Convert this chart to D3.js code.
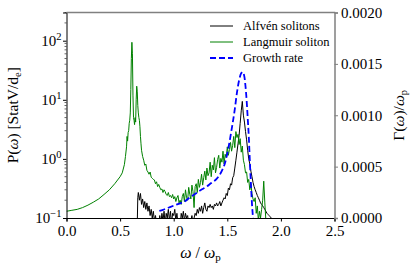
<!DOCTYPE html>
<html lang="en">
<head>
    <meta charset="utf-8">
    <script type="text/javascript" src="https://d3js.org/d3.v7.min.js"></script>
    <style>
        body { margin: 0; background: #fff; }
    </style>
</head>
<body>
    <script type="text/javascript">
        let w = 415;
        let h = 270;
        let serif = "Liberation Serif, Times New Roman, DejaVu Serif, serif";

        // Langmuir soliton spectrum
        let langW = [0.00, 0.05, 0.10, 0.15, 0.20, 0.25, 0.30, 0.35, 0.40, 0.45, 0.50, 0.52, 0.54, 0.55, 0.56, 0.565, 0.57, 0.575, 0.58, 0.585, 0.59, 0.595,
            0.60, 0.605, 0.61, 0.615, 0.62, 0.625, 0.63, 0.635, 0.64, 0.645, 0.65, 0.655, 0.66, 0.665, 0.67, 0.675, 0.68, 0.685, 0.69, 0.695,
            0.70, 0.71, 0.72, 0.73, 0.74, 0.75, 0.76, 0.77, 0.78, 0.79, 0.80, 0.81, 0.82, 0.83, 0.84, 0.85, 0.86, 0.87, 0.88, 0.89,
            0.90, 0.91, 0.92, 0.93, 0.94, 0.95, 0.96, 0.97, 0.98, 0.99, 1.00, 1.01, 1.02, 1.03, 1.04, 1.05, 1.06, 1.07, 1.08, 1.09,
            1.10, 1.11, 1.12, 1.13, 1.14, 1.15, 1.16, 1.17, 1.18, 1.19, 1.20, 1.21, 1.22, 1.23, 1.24, 1.25, 1.26, 1.27, 1.28, 1.29,
            1.30, 1.31, 1.32, 1.33, 1.34, 1.35, 1.36, 1.37, 1.38, 1.39, 1.40, 1.41, 1.42, 1.43, 1.44, 1.45, 1.46, 1.47, 1.48, 1.49,
            1.50, 1.51, 1.52, 1.53, 1.54, 1.55, 1.56, 1.57, 1.58, 1.59, 1.60, 1.61, 1.62, 1.63, 1.64, 1.65, 1.66, 1.67, 1.68, 1.69,
            1.70, 1.71, 1.72, 1.73, 1.74, 1.75, 1.76, 1.77, 1.78, 1.79, 1.80, 1.81, 1.82, 1.83, 1.84, 1.85, 1.86, 1.87, 1.88];
        let langP = [0.13, 0.135, 0.14, 0.15, 0.165, 0.185, 0.21, 0.25, 0.30, 0.38, 0.50, 0.58, 0.80, 1.1, 1.6, 2.4, 2.0, 2.8, 3.0, 4.0, 4.5, 6.0,
            15, 50, 94, 60, 12, 5.0, 4.5, 3.8, 5.0, 4.2, 10, 17, 14, 8.0, 6.0, 5.0, 4.5, 3.5, 2.4, 1.8,
            1.40, 1.10, 0.95, 0.78, 0.82, 0.64, 0.60, 0.55, 0.60, 0.49, 0.47, 0.45, 0.44, 0.38, 0.41, 0.34, 0.37, 0.33, 0.30, 0.31,
            0.27, 0.30, 0.28, 0.25, 0.24, 0.27, 0.23, 0.24, 0.22, 0.25, 0.21, 0.23, 0.19, 0.22, 0.24, 0.18, 0.20, 0.17, 0.23, 0.26,
            0.19, 0.30, 0.22, 0.20, 0.33, 0.25, 0.21, 0.36, 0.28, 0.15, 0.34, 0.38, 0.27, 0.45, 0.33, 0.40, 0.55, 0.36, 0.48, 0.62,
            0.44, 0.70, 0.52, 0.58, 0.88, 0.50, 0.78, 0.65, 1.05, 0.58, 0.72, 0.98, 1.15, 0.70, 1.02, 0.88, 1.35, 0.82, 1.20, 1.05,
            1.60, 1.15, 1.45, 1.90, 1.35, 1.70, 2.40, 1.55, 2.90, 2.30, 2.60, 1.75, 2.20, 1.30, 1.65, 0.95, 0.80, 0.58, 0.60, 0.40,
            0.45, 0.30, 0.38, 0.26, 0.21, 0.19, 0.22, 0.12, 0.16, 0.09, 0.13, 0.10, 0.14, 0.20, 0.42, 0.18, 0.09, 0.07, 0.06];

        // Alfven soliton spectrum
        let alfW = [0.650, 0.660, 0.665, 0.67, 0.68, 0.69, 0.70, 0.71, 0.72, 0.73, 0.74, 0.75, 0.76, 0.77, 0.78, 0.79,
            0.80, 0.81, 0.82, 0.83, 0.84, 0.85, 0.86, 0.87, 0.88, 0.89, 0.90, 0.91, 0.92, 0.93, 0.94, 0.95, 0.96, 0.97, 0.98, 0.99,
            1.00, 1.01, 1.02, 1.03, 1.04, 1.05, 1.06, 1.07, 1.08, 1.09, 1.10, 1.11, 1.12, 1.13, 1.14, 1.15, 1.16, 1.17, 1.18, 1.19,
            1.20, 1.21, 1.22, 1.23, 1.24, 1.25, 1.26, 1.27, 1.28, 1.29, 1.30, 1.31, 1.32, 1.33, 1.34, 1.35, 1.36, 1.37, 1.38, 1.39,
            1.40, 1.41, 1.42, 1.43, 1.44, 1.45, 1.46, 1.47, 1.48, 1.49, 1.50, 1.51, 1.52, 1.53, 1.54, 1.55, 1.56, 1.57, 1.58, 1.59,
            1.60, 1.61, 1.62, 1.63, 1.64, 1.65, 1.66, 1.67, 1.68, 1.69, 1.70, 1.71, 1.72, 1.73, 1.74, 1.75, 1.76, 1.77, 1.78, 1.79,
            1.80, 1.81, 1.82, 1.83, 1.84, 1.85, 1.86, 1.87, 1.88, 1.89, 1.90, 1.91, 1.92, 1.93];
        let alfP = [0.05, 0.08, 0.22, 0.27, 0.20, 0.26, 0.17, 0.21, 0.15, 0.19, 0.14, 0.18, 0.13, 0.16, 0.11, 0.14,
            0.10, 0.13, 0.09, 0.11, 0.08, 0.10, 0.07, 0.11, 0.08, 0.12, 0.09, 0.13, 0.08, 0.12, 0.10, 0.14, 0.09, 0.13, 0.08, 0.12,
            0.11, 0.14, 0.09, 0.12, 0.08, 0.10, 0.07, 0.12, 0.10, 0.13, 0.09, 0.12, 0.10, 0.11, 0.08, 0.10, 0.09, 0.11, 0.08, 0.10,
            0.12, 0.11, 0.14, 0.12, 0.15, 0.13, 0.16, 0.12, 0.15, 0.18, 0.14, 0.13, 0.16, 0.15, 0.17, 0.15, 0.16, 0.14, 0.17, 0.16,
            0.18, 0.16, 0.17, 0.19, 0.16, 0.18, 0.20, 0.22, 0.21, 0.26, 0.24, 0.32, 0.30, 0.38, 0.36, 0.48, 0.52, 0.70, 0.95, 1.30,
            1.80, 2.50, 4.00, 6.50, 9.40, 5.50, 4.20, 2.90, 2.10, 1.40, 1.00, 0.82, 0.62, 0.50, 0.40, 0.34, 0.30, 0.27, 0.24, 0.22,
            0.20, 0.18, 0.17, 0.16, 0.15, 0.14, 0.13, 0.12, 0.115, 0.11, 0.105, 0.10, 0.095, 0.09];

        // Growth rate (right axis)
        let grW = [0.866, 0.90, 0.95, 1.00, 1.06, 1.10, 1.15, 1.21, 1.25, 1.30, 1.35, 1.40, 1.45, 1.48, 1.51, 1.54, 1.57, 1.59,
            1.61, 1.63, 1.645, 1.66, 1.67, 1.68, 1.69, 1.70, 1.71, 1.72, 1.73, 1.74];
        let grG = [0.00007, 0.00008, 0.00010, 0.00012, 0.000143, 0.00016, 0.00020, 0.00024, 0.00027, 0.00030, 0.00034, 0.00038,
            0.00046, 0.00054, 0.00068, 0.00086, 0.00106, 0.00122, 0.00134, 0.00141, 0.00142, 0.00137, 0.00128, 0.00115,
            0.00098, 0.00080, 0.00056, 0.00034, 0.00014, 0.0];

        let xTicks = [0, 0.5, 1.0, 1.5, 2.0, 2.5];
        let yTicks = [0.1, 1, 10, 100];
        let yTickExp = ["\u22121", "0", "1", "2"];
        let y2Ticks = [0, 0.0005, 0.0010, 0.0015, 0.0020];

        let legendNames = ["Alfvén solitons", "Langmuir soliton", "Growth rate"];
        let legendColors = ["black", "green", "blue"];

        let m = {left: 66.5, right: 334.5, top: 12.5, bottom: 218};

        let svg = d3.select("body").append("svg")
            .attr("width", w)
            .attr("height", h)
            .style("font-family", serif);

        let x = d3.scaleLinear().domain([0, 2.5]).range([m.left, m.right]);
        let y = d3.scaleLog().domain([0.1, 300]).range([m.bottom, m.top]);
        let y2 = d3.scaleLinear().domain([0, 0.002]).range([m.bottom, m.top]);

        svg.append("clipPath").attr("id", "clip")
            .append("rect")
            .attr("x", m.left).attr("y", m.top)
            .attr("width", m.right - m.left).attr("height", m.bottom - m.top);

        let plot = svg.append("g").attr("clip-path", "url(#clip)");

        let lineP = d3.line()
            .x(function(d) { return x(d[0]); })
            .y(function(d) { return y(d[1]); });
        let lineG = d3.line()
            .x(function(d) { return x(d[0]); })
            .y(function(d) { return y2(d[1]); })
            .curve(d3.curveMonotoneX);

        plot.append("path")
            .datum(d3.zip(alfW, alfP))
            .attr("d", lineP)
            .attr("fill", "none")
            .attr("stroke", "black")
            .attr("stroke-width", 1);

        plot.append("path")
            .datum(d3.zip(langW, langP))
            .attr("d", lineP)
            .attr("fill", "none")
            .attr("stroke", "green")
            .attr("stroke-width", 1);

        plot.append("path")
            .datum(d3.zip(grW, grG))
            .attr("d", lineG)
            .attr("fill", "none")
            .attr("stroke", "blue")
            .attr("stroke-width", 1.8)
            .attr("stroke-dasharray", "6,3");

        // bottom axis
        let xAxis = svg.append("g")
            .attr("transform", "translate(0," + m.bottom + ")")
            .call(d3.axisBottom(x).tickValues(xTicks).tickFormat(d3.format(".1f")).tickSize(3.5).tickPadding(3.5));
        xAxis.attr("font-family", null).attr("font-size", 15);

        // left axis: log, labels drawn separately
        let yAxis = svg.append("g")
            .attr("transform", "translate(" + m.left + ",0)")
            .call(d3.axisLeft(y).tickValues(yTicks).tickFormat("").tickSize(3.5));

        let minor = [];
        yTicks.forEach(function(dec) {
            for (let k = 2; k <= 9; k++) {
                if (dec * k <= 300) minor.push(dec * k);
            }
        });
        svg.append("g").selectAll("line")
            .data(minor)
            .join("line")
            .attr("x1", m.left - 2).attr("x2", m.left)
            .attr("y1", function(d) { return y(d); })
            .attr("y2", function(d) { return y(d); })
            .attr("stroke", "black")
            .attr("stroke-width", 0.6);

        let ylabG = svg.append("g").attr("font-size", 15);
        yTicks.forEach(function(d, i) {
            let t = ylabG.append("text")
                .attr("x", m.left - 5)
                .attr("y", y(d) + 5)
                .attr("text-anchor", "end");
            t.append("tspan").text("10");
            t.append("tspan").attr("dy", -6).attr("font-size", 10.5).text(yTickExp[i]);
        });

        // right axis
        let y2Axis = svg.append("g")
            .attr("transform", "translate(" + m.right + ",0)")
            .call(d3.axisRight(y2).tickValues(y2Ticks).tickFormat(d3.format(".4f")).tickSize(3.5).tickPadding(3));
        y2Axis.attr("font-family", null).attr("font-size", 15);
        y2Axis.select(".domain").attr("stroke", "#808080").attr("stroke-width", 1.5);
        y2Axis.selectAll(".tick line").attr("stroke", "#808080");

        // top spine
        svg.append("line")
            .attr("x1", m.left).attr("x2", m.right + 0.75)
            .attr("y1", m.top).attr("y2", m.top)
            .attr("stroke", "#808080")
            .attr("stroke-width", 1.5);

        // axis titles
        let xt = svg.append("text")
            .attr("x", (m.left + m.right) / 2)
            .attr("y", 258)
            .attr("text-anchor", "middle")
            .attr("font-size", 16);
        xt.append("tspan").attr("font-style", "italic").text("ω");
        xt.append("tspan").text(" / ");
        xt.append("tspan").attr("font-style", "italic").text("ω");
        xt.append("tspan").attr("dy", 3).attr("font-size", 11).text("p");

        let ytl = svg.append("text")
            .attr("transform", "translate(18," + ((m.top + m.bottom) / 2) + ") rotate(-90)")
            .attr("text-anchor", "middle")
            .attr("font-size", 15.5);
        ytl.append("tspan").text("P(");
        ytl.append("tspan").attr("font-style", "italic").text("ω");
        ytl.append("tspan").text(") [StatV/d");
        ytl.append("tspan").attr("dy", 3).attr("font-size", 10.5).text("e");
        ytl.append("tspan").attr("dy", -3).text("]");

        let ytr = svg.append("text")
            .attr("transform", "translate(404," + ((m.top + m.bottom) / 2) + ") rotate(-90)")
            .attr("text-anchor", "middle")
            .attr("font-size", 15.5);
        ytr.append("tspan").text("Γ(");
        ytr.append("tspan").attr("font-style", "italic").text("ω");
        ytr.append("tspan").text(")/");
        ytr.append("tspan").attr("font-style", "italic").text("ω");
        ytr.append("tspan").attr("dy", 3).attr("font-size", 10.5).text("p");

        // legend
        let leg = svg.append("g");
        legendNames.forEach(function(name, i) {
            leg.append("line")
                .attr("x1", 210).attr("x2", 233)
                .attr("y1", 26 + i * 16).attr("y2", 26 + i * 16)
                .attr("stroke", legendColors[i])
                .attr("stroke-width", i == 2 ? 1.8 : 1)
                .attr("stroke-dasharray", i == 2 ? "6,3" : null);
            leg.append("text")
                .attr("x", 243)
                .attr("y", 30 + i * 16)
                .attr("font-size", 12.5)
                .text(name);
        });
    </script>
</body>
</html>
